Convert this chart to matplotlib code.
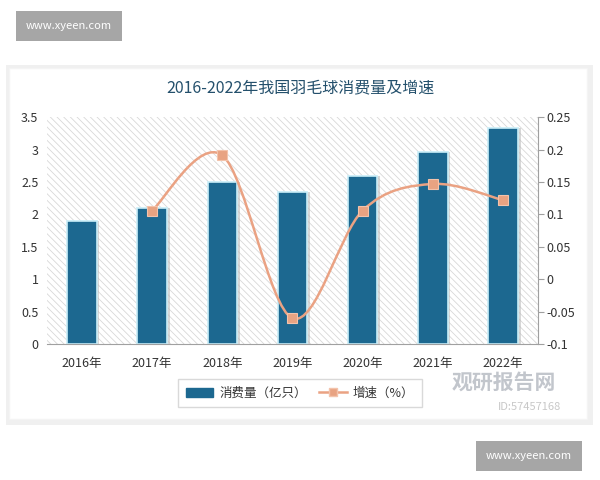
import matplotlib
matplotlib.use('Agg')
import matplotlib.pyplot as plt
from matplotlib.patches import Rectangle, Patch
from matplotlib.lines import Line2D
from matplotlib.path import Path
from matplotlib.patches import PathPatch
import numpy as np

plt.rcParams['font.family'] = ['Noto Sans CJK SC', 'DejaVu Sans']
plt.rcParams['hatch.linewidth'] = 0.6

years = ['2016年', '2017年', '2018年', '2019年', '2020年', '2021年', '2022年']
consumption = [1.90, 2.10, 2.50, 2.35, 2.59, 2.97, 3.33]   # 亿只
growth_years = ['2017年', '2018年', '2019年', '2020年', '2021年', '2022年']
growth = [0.106, 0.191, -0.060, 0.106, 0.147, 0.122]

BAR = '#1c6890'
LINE = '#eaa283'

fig = plt.figure(figsize=(6, 4.8), dpi=100)
fig.patch.set_facecolor('white')

# card with soft shadow
fig.patches.append(Rectangle((0.010, 0.114), 0.978, 0.75, transform=fig.transFigure,
                             facecolor='#f0f0f0', edgecolor='none', zorder=-2))
fig.patches.append(Rectangle((0.015, 0.128), 0.964, 0.73, transform=fig.transFigure,
                             facecolor='white', edgecolor='#f4f4f4', zorder=-1))

ax = fig.add_axes([0.078, 0.283, 0.819, 0.473])
ax.set_zorder(2)
x = np.arange(len(years))
ax.set_facecolor('white')
ax.add_patch(Rectangle((0, 0), 1, 1, transform=ax.transAxes, facecolor='white',
                       edgecolor='#d8d8d8', hatch='\\\\\\\\\\', linewidth=0, zorder=0))

# bar shadow + bars
ax.bar(x + 0.04, consumption, width=0.42, color='#bdbdbd', alpha=0.6, zorder=1)
ax.bar(x, consumption, width=0.42, color=BAR, edgecolor='#c9eef8', linewidth=1.2, zorder=2)

ax.set_xlim(-0.5, len(years) - 0.5)
ax.set_ylim(0, 3.5)
ax.set_yticks(np.arange(0, 3.51, 0.5))
ax.set_yticklabels(['0', '0.5', '1', '1.5', '2', '2.5', '3', '3.5'])
ax.set_xticks(x)
ax.set_xticklabels(years)
ax.tick_params(axis='y', length=0, labelsize=9, colors='#333333', pad=6)
ax.tick_params(axis='x', length=0, labelsize=9, colors='#333333', pad=9)
for s in ['left', 'top', 'right']:
    ax.spines[s].set_visible(False)
ax.spines['bottom'].set_color('#a0a0a0')

ax2 = ax.twinx()
ax2.set_zorder(3)
ax2.set_ylim(-0.1, 0.25)
ax2.set_yticks(np.arange(-0.1, 0.251, 0.05))
ax2.set_yticklabels(['-0.1', '-0.05', '0', '0.05', '0.1', '0.15', '0.2', '0.25'])
ax2.tick_params(axis='y', length=4, labelsize=9, colors='#333333', pad=2)
ax2.tick_params(axis='y', color='#a0a0a0')
for s in ['left', 'top', 'bottom']:
    ax2.spines[s].set_visible(False)
ax2.spines['right'].set_color('#a0a0a0')

# smoothed line (Catmull-Rom as cubic Bezier through the data points)
gx = np.array([years.index(y) for y in growth_years], dtype=float)
gy = np.array(growth)
pts = np.column_stack([gx, gy])
ext = np.vstack([pts[0], pts, pts[-1]])
verts = [tuple(pts[0])]
codes = [Path.MOVETO]
for i in range(len(pts) - 1):
    p0, p1, p2, p3 = ext[i], ext[i + 1], ext[i + 2], ext[i + 3]
    c1 = p1 + (p2 - p0) / 6
    c2 = p2 - (p3 - p1) / 6
    verts += [tuple(c1), tuple(c2), tuple(p2)]
    codes += [Path.CURVE4] * 3
ax2.add_patch(PathPatch(Path(verts, codes), facecolor='none', edgecolor=LINE,
                        linewidth=1.8, zorder=3))
ax2.plot(gx, gy, linestyle='none', marker='s', markersize=7, color='#e8a382',
         markeredgecolor='#f3c3ab', markeredgewidth=0.8, zorder=4)

fig.text(0.5, 0.818, '2016-2022年我国羽毛球消费量及增速', ha='center', va='center',
         fontsize=11.5, color='#24506c')

handles = [Patch(facecolor=BAR, edgecolor=BAR),
           Line2D([0], [0], color=LINE, lw=1.8, marker='s', markersize=6,
                  markerfacecolor='#e8a382', markeredgecolor='#f3c3ab')]
fig.legend(handles, ['消费量（亿只）', '增速（%）'], loc='center',
           bbox_to_anchor=(0.5, 0.181), ncol=2, fontsize=9, frameon=True,
           edgecolor='#d0d0d0', fancybox=False, handlelength=2.2, borderpad=0.6,
           columnspacing=1.0, handletextpad=0.5, labelcolor='#333333')

# watermarks
fig.text(0.752, 0.203, '观研报告网', fontsize=15, fontweight='bold', color='#b8bcc4',
         alpha=0.85, ha='left', va='center')
fig.text(0.83, 0.152, 'ID:57457168', fontsize=8, color='#c8c8c8', ha='left', va='center')
fig.text(0.115, 0.945, 'www.xyeen.com', fontsize=8, color='white', ha='center', va='center',
         bbox=dict(facecolor='#a6a6a6', edgecolor='none', boxstyle='square,pad=0.9'))
fig.text(0.882, 0.05, 'www.xyeen.com', fontsize=8, color='white', ha='center', va='center',
         bbox=dict(facecolor='#a6a6a6', edgecolor='none', boxstyle='square,pad=0.9'))

fig.savefig('out.png', dpi=100)
